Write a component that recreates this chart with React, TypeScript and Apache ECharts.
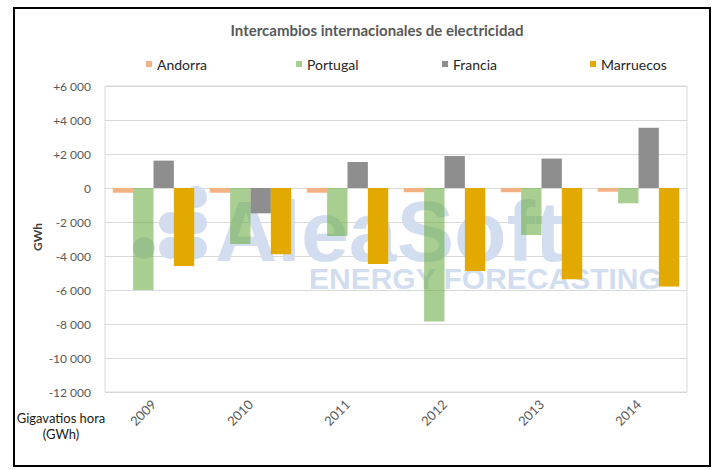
import React, { useEffect, useRef } from "react";
import * as echarts from "echarts";

const years = ["2009", "2010", "2011", "2012", "2013", "2014"];
const andorra = [-280, -280, -280, -250, -250, -220];
const portugal = [-6000, -3290, -2820, -7860, -2760, -900];
const francia = [1610, -1490, 1530, 1880, 1730, 3550];
const marruecos = [-4590, -3900, -4470, -4880, -5370, -5800];
const seriesNames = ["Andorra", "Portugal", "Francia", "Marruecos"];
const legendLefts = [141, 291, 437, 585];

const FONT = "Lato, 'Noto Sans', sans-serif";
const WM = "#D2DEEF";

function fmt(v: number): string {
  const a = Math.abs(v);
  const s = a >= 1000 ? Math.floor(a / 1000) + " " + String(a % 1000).padStart(3, "0") : String(a);
  if (v > 0) return "+" + s;
  if (v < 0) return "-" + s;
  return "0";
}

export default function App() {
  const ref = useRef<HTMLDivElement>(null);
  useEffect(() => {
    if (!ref.current) return;
    const chart = echarts.init(ref.current, null, { renderer: "svg" });
    const colors = ["#F4B183", "rgba(112,173,71,0.6)", "#8E8E8E", "#E2AA00"];
    const dataSets = [andorra, portugal, francia, marruecos];
    const dots = [
      [144, 248],
      [170, 223],
      [170, 248],
      [196, 197],
      [196, 223],
      [196, 248],
    ];
    chart.setOption({
      animation: false,
      backgroundColor: "#ffffff",
      color: colors,
      grid: {
        left: 105,
        right: 27,
        top: 86,
        bottom: 78,
        show: true,
        borderColor: "#D9D9D9",
        borderWidth: 1,
        backgroundColor: "transparent",
      },
      legend: seriesNames.map((n, i) => ({
        data: [n],
        left: legendLefts[i],
        top: 52,
        icon: "rect",
        itemWidth: 6,
        itemHeight: 6,
        selectedMode: false,
        textStyle: { fontFamily: FONT, fontSize: 14, color: "#262626" },
      })),
      xAxis: {
        type: "category",
        data: years,
        axisLine: { show: false, onZero: false },
        axisTick: { show: false },
        axisLabel: {
          rotate: 45,
          margin: 10,
          fontFamily: FONT,
          fontSize: 13,
          color: "#595959",
        },
      },
      yAxis: {
        type: "value",
        min: -12000,
        max: 6000,
        interval: 2000,
        axisLine: { show: false },
        axisTick: { show: false },
        splitLine: { lineStyle: { color: "#D9D9D9", width: 1 } },
        axisLabel: {
          margin: 14,
          fontFamily: FONT,
          fontSize: 12,
          color: "#595959",
          formatter: (v: number) => fmt(v),
        },
      },
      series: seriesNames.map((n, i) => ({
        name: n,
        type: "bar",
        data: dataSets[i],
        barGap: "0%",
        barCategoryGap: "16%",
        itemStyle: { color: colors[i] },
        z: 3,
      })),
      graphic: {
        elements: [
          ...dots.map((d) => ({
            type: "circle",
            shape: { cx: d[0], cy: d[1], r: 11 },
            style: { fill: WM },
            z: 1,
            silent: true,
          })),
          {
            type: "text",
            x: 215,
            y: 231,
            z: 1,
            silent: true,
            style: {
              text: "AleaSoft",
              fill: WM,
              font: "bold 86px 'Liberation Sans', Arial, sans-serif",
              lineHeight: 60,
              textAlign: "left",
              textVerticalAlign: "middle",
            },
          },
          {
            type: "text",
            x: 309,
            y: 278,
            z: 1,
            silent: true,
            style: {
              text: "ENERGY FORECASTING",
              fill: WM,
              font: "bold 30px 'Liberation Sans', Arial, sans-serif",
              lineHeight: 22,
              textAlign: "left",
              textVerticalAlign: "middle",
            },
          },
          {
            type: "text",
            x: 377,
            y: 30,
            z: 10,
            style: {
              text: "Intercambios internacionales de electricidad",
              fill: "#595959",
              font: "bold 15px " + FONT,
              textAlign: "center",
              textVerticalAlign: "middle",
            },
          },
          {
            type: "text",
            x: 37,
            y: 237,
            rotation: Math.PI / 2,
            z: 10,
            style: {
              text: "GWh",
              fill: "#404040",
              font: "bold 12px " + FONT,
              textAlign: "center",
              textVerticalAlign: "middle",
            },
          },
          {
            type: "text",
            x: 61,
            y: 418,
            z: 10,
            style: {
              text: "Gigavatios hora",
              fill: "#1a1a1a",
              font: "13px " + FONT,
              textAlign: "center",
              textVerticalAlign: "middle",
            },
          },
          {
            type: "text",
            x: 61,
            y: 434,
            z: 10,
            style: {
              text: "(GWh)",
              fill: "#1a1a1a",
              font: "13px " + FONT,
              textAlign: "center",
              textVerticalAlign: "middle",
            },
          },
          {
            type: "rect",
            shape: { x: 14, y: 8, width: 696, height: 458 },
            z: 10,
            style: { fill: "transparent", stroke: "#000000", lineWidth: 2 },
          },
        ],
      },
    });
    return () => chart.dispose();
  }, []);
  return (
    <div
      ref={ref}
      style={{ position: "absolute", left: 0, top: 0, width: 714, height: 470 }}
    />
  );
}
